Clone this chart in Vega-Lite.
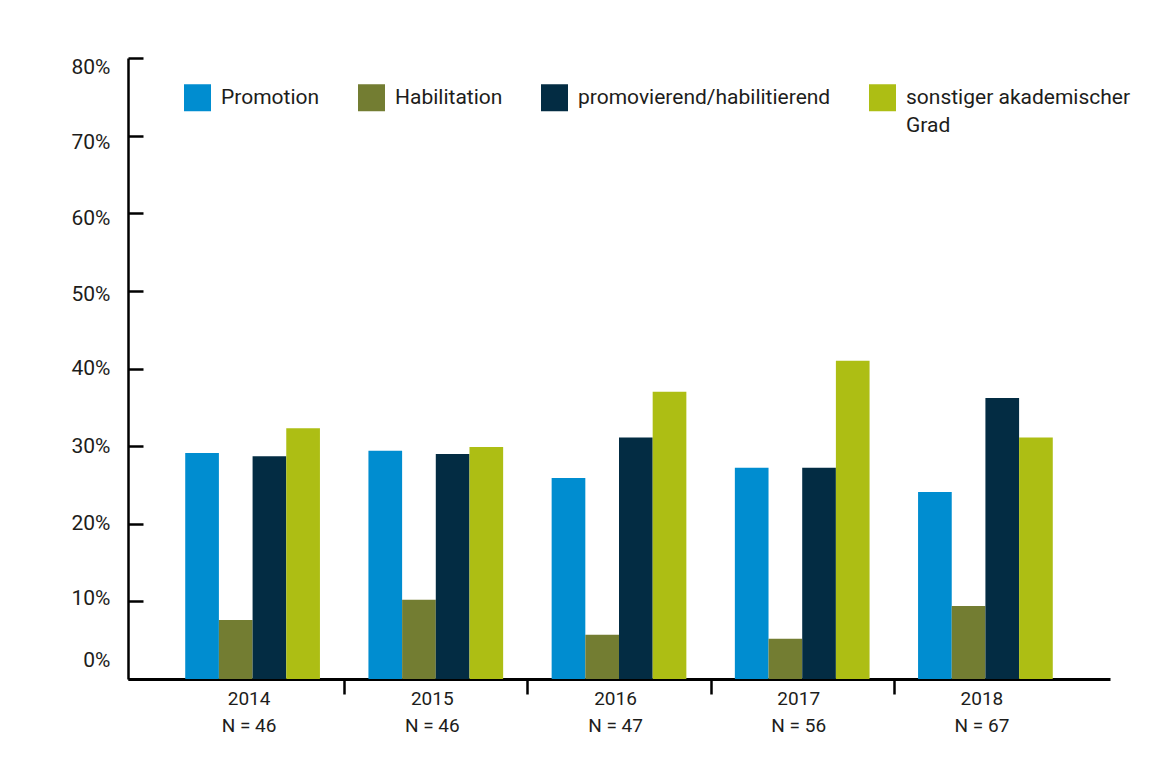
{
  "$schema": "https://vega.github.io/schema/vega-lite/v6.json",
  "width": 982,
  "height": 621,
  "autosize": {"type": "none"},
  "padding": {"left": 128, "top": 58, "right": 48, "bottom": 78},
  "background": "white",
  "data": {
    "values": [
      {"jahr": "2014", "typ": "Promotion", "anteil": 29.1},
      {"jahr": "2014", "typ": "Habilitation", "anteil": 7.6},
      {"jahr": "2014", "typ": "promovierend/habilitierend", "anteil": 28.7},
      {"jahr": "2014", "typ": "sonstiger akademischer Grad", "anteil": 32.3},
      {"jahr": "2015", "typ": "Promotion", "anteil": 29.4},
      {"jahr": "2015", "typ": "Habilitation", "anteil": 10.2},
      {"jahr": "2015", "typ": "promovierend/habilitierend", "anteil": 29.0},
      {"jahr": "2015", "typ": "sonstiger akademischer Grad", "anteil": 29.9},
      {"jahr": "2016", "typ": "Promotion", "anteil": 25.9},
      {"jahr": "2016", "typ": "Habilitation", "anteil": 5.7},
      {"jahr": "2016", "typ": "promovierend/habilitierend", "anteil": 31.1},
      {"jahr": "2016", "typ": "sonstiger akademischer Grad", "anteil": 37.0},
      {"jahr": "2017", "typ": "Promotion", "anteil": 27.2},
      {"jahr": "2017", "typ": "Habilitation", "anteil": 5.2},
      {"jahr": "2017", "typ": "promovierend/habilitierend", "anteil": 27.2},
      {"jahr": "2017", "typ": "sonstiger akademischer Grad", "anteil": 41.0},
      {"jahr": "2018", "typ": "Promotion", "anteil": 24.1},
      {"jahr": "2018", "typ": "Habilitation", "anteil": 9.4},
      {"jahr": "2018", "typ": "promovierend/habilitierend", "anteil": 36.2},
      {"jahr": "2018", "typ": "sonstiger akademischer Grad", "anteil": 31.1}
    ]
  },
  "mark": {"type": "bar"},
  "encoding": {
    "x": {
      "field": "jahr",
      "type": "nominal",
      "scale": {"paddingInner": 0, "paddingOuter": 0.18},
      "axis": {
        "title": null,
        "labelAngle": 0,
        "labelFont": "Roboto",
        "labelFontSize": 19,
        "labelColor": "#1d1d1b",
        "labelLineHeight": 27,
        "labelPadding": -5,
        "labelOffset": -4,
        "labelExpr": "datum.label === '2014' ? ['2014', 'N = 46'] : datum.label === '2015' ? ['2015', 'N = 46'] : datum.label === '2016' ? ['2016', 'N = 47'] : datum.label === '2017' ? ['2017', 'N = 56'] : datum.label === '2018' ? ['2018', 'N = 67'] : ''",
        "domainColor": "#000000",
        "domainWidth": 3,
        "tickColor": "#000000",
        "tickWidth": 2.5,
        "tickSize": 15,
        "tickBand": "extent",
        "tickOpacity": {"condition": {"test": "datum.value === '2014' || datum.value === '2015' || datum.value === '2016' || datum.value === '2017'", "value": 1}, "value": 0}
      }
    },
    "xOffset": {
      "field": "typ",
      "type": "nominal",
      "sort": ["Promotion", "Habilitation", "promovierend/habilitierend", "sonstiger akademischer Grad"],
      "scale": {"paddingInner": 0, "paddingOuter": 0.72}
    },
    "y": {
      "field": "anteil",
      "type": "quantitative",
      "scale": {"domain": [0, 80], "nice": false, "zero": true},
      "axis": {
        "title": null,
        "values": [0, 10, 20, 30, 40, 50, 60, 70, 80],
        "labelExpr": "datum.value + '%'",
        "labelFont": "Roboto",
        "labelFontSize": 21,
        "labelColor": "#1d1d1b",
        "labelPadding": 33,
        "labelOffset": {"condition": [
          {"test": "datum.value === 80", "value": 9},
          {"test": "datum.value === 70", "value": 7},
          {"test": "datum.value === 60", "value": 5},
          {"test": "datum.value === 50", "value": 4},
          {"test": "datum.value === 10", "value": -3},
          {"test": "datum.value === 0", "value": -19}
        ], "value": 0},
        "grid": false,
        "domainColor": "#000000",
        "domainWidth": 2.5,
        "tickColor": "#000000",
        "tickWidth": 2.5,
        "tickSize": -15
      }
    },
    "color": {
      "field": "typ",
      "type": "nominal",
      "scale": {
        "domain": ["Promotion", "Habilitation", "promovierend/habilitierend", "sonstiger akademischer Grad"],
        "range": ["#008dd0", "#737d32", "#032c43", "#adbe14"]
      },
      "legend": {
        "title": null,
        "orient": "none",
        "direction": "horizontal",
        "legendX": 56,
        "legendY": 26,
        "symbolType": "square",
        "symbolSize": 729,
        "symbolStrokeWidth": 0,
        "symbolOpacity": 1,
        "labelFont": "Roboto",
        "labelFontSize": 21,
        "labelColor": "#1d1d1b",
        "labelOffset": 10,
        "labelLimit": 400,
        "columnPadding": 38,
        "labelExpr": "datum.label === 'sonstiger akademischer Grad' ? ['sonstiger akademischer', 'Grad'] : [datum.label, '']",
        "encode": {"labels": {"update": {"lineHeight": {"value": 28}}}}
      }
    }
  },
  "config": {
    "view": {"stroke": null}
  }
}
